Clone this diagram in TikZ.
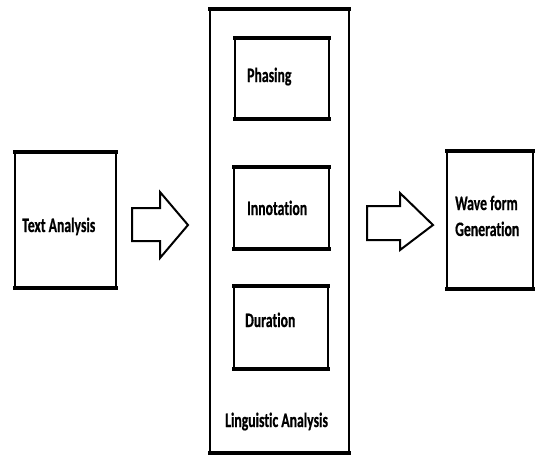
\documentclass[tikz,border=0pt]{standalone}
\usepackage{fontspec}
\newfontfamily\labfont{Carlito}[FakeStretch=0.67, FakeBold=0.6, Ligatures={NoCommon}]
\begin{document}
\begin{tikzpicture}[x=1pt,y=-1pt,
  box/.style={draw=black, line width=2pt, inner sep=0pt, fill=white},
  lab/.style={font=\labfont\bfseries\fontsize{20.5}{26}\selectfont, inner sep=0pt, text=black},
  blockarrow/.style={draw=black, line width=2pt, line join=miter, fill=white}]
\fill[white] (0,0) rectangle (548,456);
\useasboundingbox (0,0) rectangle (548,456);
% boxes
\node[box, minimum width=101pt, minimum height=134pt] (ta) at (65.5,220) {};
\node[box, minimum width=139pt, minimum height=442pt] (la) at (279.5,231) {};
\node[box, minimum width=94pt, minimum height=79pt] (ph) at (282,78.5) {};
\node[box, minimum width=95pt, minimum height=80pt] (in) at (281.5,208) {};
\node[box, minimum width=94pt, minimum height=81pt] (du) at (281,327.5) {};
\node[box, minimum width=86pt, minimum height=136pt] (wg) at (490,220) {};
% thicker top and bottom edges
\foreach \n in {ta,la,ph,in,du,wg}{
  \draw[line width=3.5pt] ([xshift=-1pt]\n.north west) -- ([xshift=1pt]\n.north east);
  \draw[line width=3.5pt] ([xshift=-1pt]\n.south west) -- ([xshift=1pt]\n.south east);
}
% labels
\node[lab, anchor=base west] (tat) at (22,232) {Text Analysis};
\node[lab, anchor=base west] (pht) at (247,82) {Phasing};
\node[lab, anchor=base west] (int) at (247,215) {Innotation};
\node[lab, anchor=base west] (dut) at (245,327) {Duration};
\node[lab, anchor=base west] (wgt1) at (455,210) {Wave form};
\node[lab, anchor=base west] (wgt2) at (455,236) {Generation};
\node[lab, anchor=base west] (lat) at (225,427) {Linguistic Analysis};
% block arrows
\draw[blockarrow] (132,208) -- (160,208) -- (160,192) -- (188,225) -- (160,258) -- (160,241) -- (132,241) -- cycle;
\draw[blockarrow] (367,206) -- (400,206) -- (400,193) -- (433,225) -- (400,250) -- (400,240) -- (367,240) -- cycle;
\end{tikzpicture}
\end{document}
